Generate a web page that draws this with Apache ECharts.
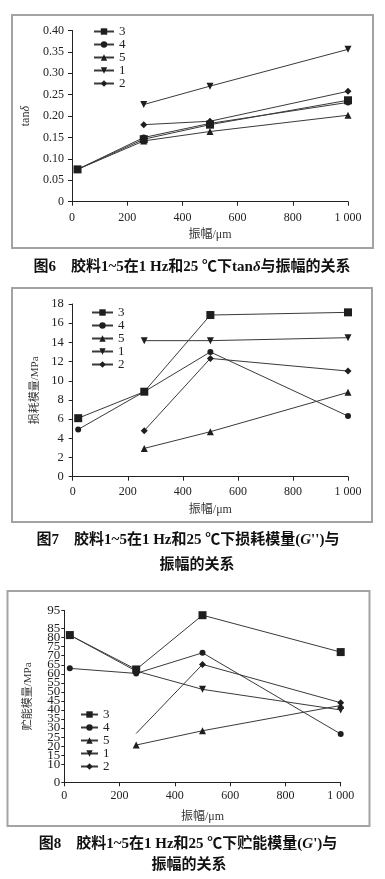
<!DOCTYPE html>
<html>
<head>
<meta charset="utf-8">
<script src="https://cdn.jsdelivr.net/npm/echarts@6/dist/echarts.min.js"></script>
<style>
html,body{margin:0;padding:0;background:#fff;}
#c{width:385px;height:879px;}
</style>
</head>
<body>
<div id="c"></div>
<script>
// ---------- data ----------
const amplitudes = [20, 260, 500, 1000];            // 振幅/μm
const seriesNames = ['3', '4', '5', '1', '2'];
const xTickValues = [0, 200, 400, 600, 800, 1000];
const xTickLabels = ['0', '200', '400', '600', '800', '1 000'];

// Fig 6: tanδ
const tan3 = [0.0755, 0.146, 0.180, 0.237];
const tan4 = [0.0755, 0.150, 0.183, 0.232];
const tan5 = [0.0755, 0.142, 0.164, 0.202];
const tan1 = [null, 0.227, 0.270, 0.356];
const tan2 = [null, 0.180, 0.188, 0.258];

// Fig 7: loss modulus G'' / MPa
const loss3 = [6.1, 8.86, 16.85, 17.13];
const loss4 = [4.93, 8.86, 13.0, 6.32];
const loss5 = [null, 2.95, 4.69, 8.79];
const loss1 = [null, 14.18, 14.18, 14.49];
const loss2 = [null, 4.8, 12.33, 11.01];

// Fig 8: storage modulus G' / MPa
const stor3 = [81.4, 62.4, 92.4, 72.0];
const stor4 = [63.0, 60.2, 71.6, 26.7];
const stor5 = [null, 20.6, 28.5, 42.5];
const stor1 = [81.4, 61.5, 51.4, 40.0];
const stor2 = [null, 27.0, 65.2, 44.0];

// ---------- styles ----------
const SERIF = '"Liberation Serif", "Times New Roman", serif';
const CJK = '"Noto Sans CJK SC", sans-serif';
const symbols = {
  '3': {symbol: 'rect', size: 8},
  '4': {symbol: 'circle', size: 6},
  '5': {symbol: 'triangle', size: 7},
  '1': {symbol: 'path://M0,0 L10,0 L5,9 Z', size: 7},
  '2': {symbol: 'diamond', size: 7}
};

function pairs(vals) {
  const out = [];
  vals.forEach((v, i) => { if (v !== null) out.push([amplitudes[i], v]); });
  return out;
}

function mkSeries(name, vals, idx, hideFirst) {
  const s = symbols[name];
  return {
    type: 'line', name: name,
    xAxisIndex: idx, yAxisIndex: idx,
    data: pairs(vals),
    symbol: s.symbol,
    symbolSize: hideFirst ? function (v, p) { return p.dataIndex === 0 ? 0 : s.size; } : s.size,
    showAllSymbol: true,
    z: name === '3' ? 4 : 2,
    lineStyle: {color: '#3a3a3a', width: 1},
    itemStyle: {color: '#1e1e1e', borderWidth: 0},
    emphasis: {disabled: true}
  };
}

function xAxis(idx, margin, nameGap) {
  return {
    type: 'value', gridIndex: idx, min: 0, max: 1000, interval: 200,
    name: '振幅/μm', nameLocation: 'middle', nameGap: nameGap,
    nameTextStyle: {fontFamily: SERIF + ',' + CJK, fontSize: 12, color: '#333'},
    axisLine: {lineStyle: {color: '#222', width: 1}},
    axisTick: {inside: false, length: 4, lineStyle: {color: '#222'}},
    splitLine: {show: false},
    axisLabel: {
      margin: margin, fontFamily: SERIF, fontSize: 12, color: '#222',
      showMinLabel: true, showMaxLabel: true, hideOverlap: false,
      formatter: v => { const k = xTickValues.indexOf(v); return k >= 0 ? xTickLabels[k] : ''; }
    }
  };
}

function yAxis(idx, o) {
  return {
    type: 'value', gridIndex: idx, min: o.min, max: o.max, interval: o.interval,
    name: o.name, nameLocation: 'middle', nameGap: o.nameGap,
    nameTextStyle: Object.assign({fontFamily: SERIF + ',' + CJK, fontSize: o.nameSize || 12, color: '#333'}, o.rich ? {rich: o.rich} : {}),
    axisLine: {show: true, lineStyle: {color: '#222', width: 1}},
    axisTick: {show: true, inside: false, length: o.tickLen || 4, lineStyle: {color: '#222'}},
    splitLine: {show: false},
    axisLabel: {margin: o.margin, fontFamily: SERIF, fontSize: o.fontSize || 12, color: '#222',
      showMinLabel: true, showMaxLabel: true, hideOverlap: false, formatter: o.formatter}
  };
}

function legend(left, top, itemWidth) {
  return {
    show: true, orient: 'vertical', left: left, top: top,
    itemWidth: itemWidth, itemHeight: 8, itemGap: 0, padding: 0,
    selectedMode: false,
    data: seriesNames,
    textStyle: {fontFamily: SERIF, fontSize: 13, lineHeight: 11, color: '#222'}
  };
}

const tanSets = {'3': tan3, '4': tan4, '5': tan5, '1': tan1, '2': tan2};
const lossSets = {'3': loss3, '4': loss4, '5': loss5, '1': loss1, '2': loss2};
const storSets = {'3': stor3, '4': stor4, '5': stor5, '1': stor1, '2': stor2};

const series = [];
seriesNames.forEach(n => series.push(mkSeries(n, tanSets[n], 0, false)));
seriesNames.forEach(n => series.push(mkSeries(n, lossSets[n], 1, false)));
seriesNames.forEach(n => series.push(mkSeries(n, storSets[n], 2, n === '2')));

function frame(x, y, w, h) {
  return {type: 'rect', silent: true, z: -10,
    shape: {x: x, y: y, width: w, height: h},
    style: {fill: 'none', stroke: '#a3a3a3', lineWidth: 2}};
}
function caption(x, y, text, rich) {
  return {type: 'text', silent: true, x: x, y: y,
    style: {text: text, fill: '#111', align: 'center', verticalAlign: 'middle',
      font: 'bold 15px ' + SERIF + ',' + CJK,
      rich: rich || {}}};
}
const italicRich = {i: {fontStyle: 'italic', fontWeight: 'bold', fontSize: 15, fontFamily: SERIF, fill: '#111'}};

const option = {
  animation: false,
  backgroundColor: '#fff',
  grid: [
    {left: 72, top: 30.5, width: 276, height: 171.2},
    {left: 72.7, top: 304, width: 275.3, height: 172.7},
    {left: 64.3, top: 610.5, width: 276.4, height: 171.8}
  ],
  xAxis: [xAxis(0, 10, 27), xAxis(1, 9, 27), xAxis(2, 8, 29)],
  yAxis: [
    yAxis(0, {min: 0, max: 0.4, interval: 0.05, name: 'tan{i|δ}', nameGap: 36, margin: 8,
      rich: {i: {fontStyle: 'italic', fontFamily: SERIF, fontSize: 12, color: '#333'}},
      formatter: v => v === 0 ? '0' : v.toFixed(2)}),
    yAxis(1, {min: 0, max: 18, interval: 2, name: '损耗模量/MPa', nameGap: 32, margin: 9, nameSize: 11, fontSize: 12.5,
      formatter: v => String(v)}),
    yAxis(2, {min: 0, max: 95, interval: 5, name: '贮能模量/MPa', nameGap: 31, margin: 4, tickLen: 3, nameSize: 11, fontSize: 13,
      formatter: v => String(v)})
  ],
  legend: [legend(93, 25, 20), legend(91, 306, 21), legend(80, 708, 17)],
  series: series,
  graphic: [
    frame(12, 15, 361, 233),
    frame(12, 288, 360, 234),
    frame(7.5, 591, 362, 235),
    caption(192, 267, '图6　胶料1~5在1 Hz和25 ℃下tan{i|δ}与振幅的关系', italicRich),
    caption(188, 540, "图7　胶料1~5在1 Hz和25 ℃下损耗模量({i|G}'')与", italicRich),
    caption(197, 565, '振幅的关系'),
    caption(188, 844, "图8　胶料1~5在1 Hz和25 ℃下贮能模量({i|G}')与", italicRich),
    caption(189, 865, '振幅的关系')
  ]
};

const chart = echarts.init(document.getElementById('c'), null, {renderer: 'canvas', width: 385, height: 879});
chart.setOption(option);
</script>
</body>
</html>
